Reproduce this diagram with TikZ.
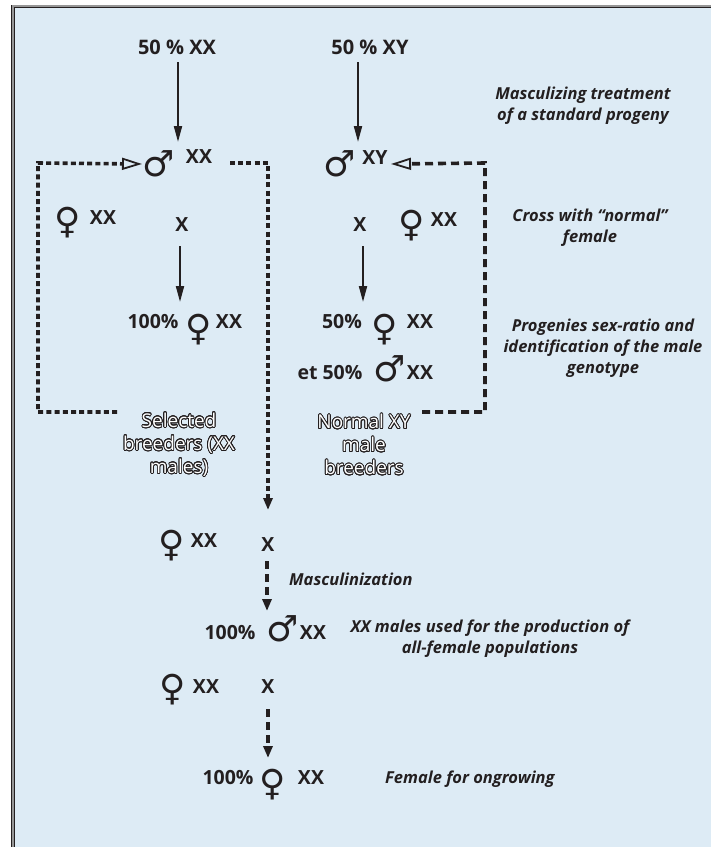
\documentclass[tikz,border=0pt]{standalone}
\usepackage{fontspec}
\setmainfont{Open Sans}
\newfontfamily\symf{DejaVu Sans}
\usepackage[copies]{contour}
\contourlength{0.8pt}
\contournumber{24}
\usetikzlibrary{arrows.meta}
\definecolor{bg}{RGB}{221,235,245}
\definecolor{ink}{RGB}{35,31,32}
\definecolor{frm}{RGB}{150,150,150}
\newcommand{\fsym}{\char"2640}
\newcommand{\msym}{\char"2642}
\newcommand{\ol}[1]{\contour{ink}{#1}}
\tikzset{
  lab/.style={font=\bfseries\fontsize{19.5}{22}\selectfont, text=ink, inner sep=0pt},
  toplab/.style={font=\bfseries\fontsize{20}{22}\selectfont, text=ink, inner sep=0pt},
  desc/.style={font=\bfseries\itshape\fontsize{16.5}{21}\selectfont, text=ink, align=center, inner sep=0pt},
  sexsym/.style={font=\symf\fontsize{36}{36}\selectfont, text=ink, inner sep=0pt},
  outl/.style={font=\fontsize{19}{23}\selectfont, text=white, align=center, inner sep=0pt},
  arr/.style={draw=ink, line width=2pt, -{Triangle[length=16pt,width=8pt]}},
  dotline/.style={draw=ink, line width=3.6pt, dash pattern=on 5pt off 3.2pt},
  dashline/.style={draw=ink, line width=3.6pt, dash pattern=on 8pt off 5pt},
  opentip/.style={-{Triangle[length=20pt,width=12pt,fill=bg,line width=1.8pt]}},
  solidtip/.style={-{Triangle[length=12pt,width=9pt]}},
}
\begin{document}
\begin{tikzpicture}[x=1pt,y=-1pt]
\useasboundingbox (0,0) rectangle (711,847);
\begin{scope}
\clip (0,0) rectangle (711,847);
\fill[white] (0,0) rectangle (711,847);
\fill[ink] (11,4.5) rectangle (730,870);
\fill[frm] (12.2,5.4) rectangle (730,870);
\fill[ink] (14,6.8) rectangle (730,870);
\fill[bg] (15,7.6) rectangle (730,870);
\end{scope}

% top labels
\node[toplab] (t1) at (177,47) {50 \% XX};
\node[toplab] (t2) at (370,47) {50 \% XY};

% first generation
\node[sexsym] (m1) at (159,164) {\msym};
\node[lab] (m1x) at (199,157) {XX};
\node[sexsym] (m2) at (340,164) {\msym};
\node[lab] (m2x) at (375,158) {XY};

\coordinate (a1) at (178,142);
\coordinate (a2) at (358,142);
\coordinate (t1s) at (178,62);
\coordinate (t2s) at (358,62);
\draw[arr] (t1s) -- (a1);
\draw[arr] (t2s) -- (a2);

% crosses
\node[sexsym] (f1) at (68,223) {\fsym};
\node[lab] (f1x) at (103,218) {XX};
\node[lab] (x1) at (182,225) {X};
\node[lab] (x2) at (360,225) {X};
\node[sexsym] (f2) at (412,226) {\fsym};
\node[lab] (f2x) at (444,220) {XX};

\coordinate (b1s) at (180,246);
\coordinate (b1e) at (180,302);
\coordinate (b2s) at (363,246);
\coordinate (b2e) at (363,302);
\draw[arr] (b1s) -- (b1e);
\draw[arr] (b2s) -- (b2e);

% progenies
\node[lab] (p1) at (153,322) {100\%};
\node[sexsym] (f3) at (199,330) {\fsym};
\node[lab] (f3x) at (229,322) {XX};
\node[lab] (p2) at (342,322) {50\%};
\node[sexsym] (f4) at (385,330) {\fsym};
\node[lab] (f4x) at (420,322) {XX};
\node[lab] (p3) at (330,373) {et 50\%};
\node[sexsym] (m3) at (390,369) {\msym};
\node[lab] (m3x) at (420,373) {XX};

% brackets
\coordinate (lb) at (117,412);
\coordinate (lbc1) at (38,412);
\coordinate (lbc2) at (38,163);
\coordinate (lbe) at (142,164);
\draw[dotline, opentip] (lb) -- (lbc1) -- (lbc2) -- (lbe);

\coordinate (rb) at (422,412);
\coordinate (rbc1) at (485,412);
\coordinate (rbc2) at (485,163);
\coordinate (rbe) at (391,164);
\draw[dashline, opentip] (rb) -- (rbc1) -- (rbc2) -- (rbe);

\coordinate (mb) at (230,163);
\coordinate (mbc) at (268,163);
\coordinate (mbe) at (268,510);
\draw[dotline, solidtip] (mb) -- (mbc) -- (mbe);

% outlined labels
\node[outl] (o1) at (179,445) {\ol{Selected}\\\ol{breeders (XX}\\\ol{males)}};
\node[outl] (o2) at (364,445) {\ol{Normal XY}\\\ol{male}\\\ol{breeders}};

% right descriptions
\node[desc] (d1) at (583,106) {Masculizing treatment\\of a standard progeny};
\node[desc] (d2) at (590,228) {Cross with “normal”\\female};
\node[desc] (d3) at (603,348) {Progenies sex-ratio and\\identification of the male\\genotype};

% bottom part
\node[sexsym] (f5) at (172,546) {\fsym};
\node[lab] (f5x) at (204,541) {XX};
\node[lab] (x3) at (268,545) {X};
\coordinate (c1s) at (267,561);
\coordinate (c1e) at (267,611);
\draw[dashline, solidtip] (c1s) -- (c1e);
\node[desc, anchor=west] (mz) at (289,579) {Masculinization};

\node[lab] (p4) at (230,633) {100\%};
\node[sexsym] (m4) at (283,629) {\msym};
\node[lab] (m4x) at (313,633) {XX};
\node[desc] (d4) at (490,639) {XX males used for the production of\\all-female populations};

\node[sexsym] (f6) at (173,690) {\fsym};
\node[lab] (f6x) at (206,687) {XX};
\node[lab] (x4) at (268,687) {X};
\coordinate (c2s) at (268,709);
\coordinate (c2e) at (268,758);
\draw[dashline, solidtip] (c2s) -- (c2e);

\node[lab] (p5) at (228,778) {100\%};
\node[sexsym] (f7) at (273,785) {\fsym};
\node[lab] (f7x) at (311,778) {XX};
\node[desc, anchor=west] (d5) at (385,779) {Female for ongrowing};
\end{tikzpicture}
\end{document}
